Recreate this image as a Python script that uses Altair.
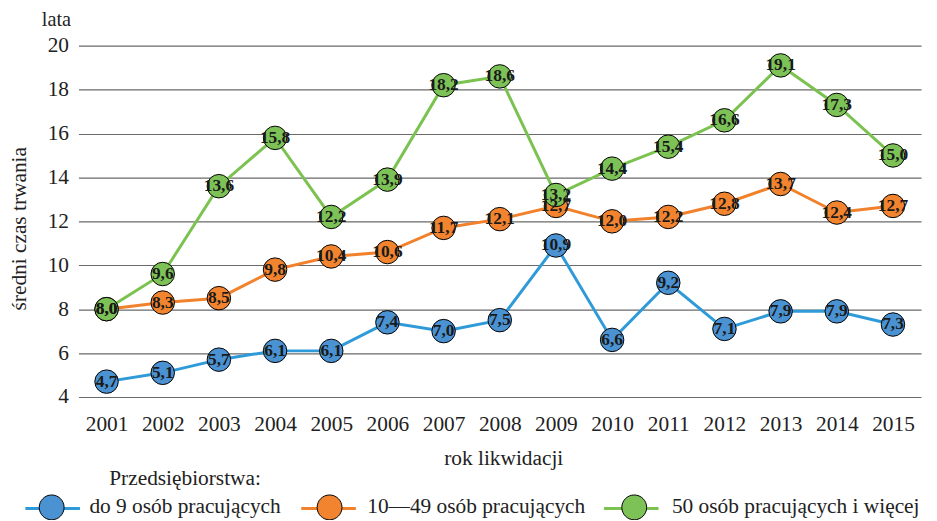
import altair as alt
import pandas as pd

years = list(range(2001, 2016))
series_names = ["do 9 osób pracujących", "10—49 osób pracujących", "50 osób pracujących i więcej"]
small = [4.7, 5.1, 5.7, 6.1, 6.1, 7.4, 7.0, 7.5, 10.9, 6.6, 9.2, 7.1, 7.9, 7.9, 7.3]
medium = [8.0, 8.3, 8.5, 9.8, 10.4, 10.6, 11.7, 12.1, 12.7, 12.0, 12.2, 12.8, 13.7, 12.4, 12.7]
large = [8.0, 9.6, 13.6, 15.8, 12.2, 13.9, 18.2, 18.6, 13.2, 14.4, 15.4, 16.6, 19.1, 17.3, 15.0]
y_ticks = [4, 6, 8, 10, 12, 14, 16, 18, 20]
line_colors = ["#2f9ad8", "#f2812c", "#7cc250"]
fill_colors = ["#4a92d2", "#f2842f", "#7dc256"]

# line legend keys carry an invisible zero-width space so Vega-Lite keeps it
# separate from the fill legend while the label widths stay identical
line_keys = [n + "\u200b" for n in series_names]

rows = []
for name, key, vals in zip(series_names, line_keys, [small, medium, large]):
    for yr, v in zip(years, vals):
        rows.append({"rok": yr, "czas": v, "linia": key, "grupa": name,
                     "etykieta": f"{v:.1f}".replace(".", ",")})
df = pd.DataFrame(rows)

FONT = "Liberation Serif"
TXT = "#222222"
W, H = 849, 354
LEG_X, LEG_Y = -55, 437
COL_PAD = 21
COL_PAD_LINES = 12

CIRCLE_SYM = "M-0.455,0A0.455,0.455,0,1,1,0.455,0A0.455,0.455,0,1,1,-0.455,0Z"
LINE_SYM = "M-1,0L1,0"

x_enc = alt.X(
    "rok:O",
    scale=alt.Scale(type="point", padding=0.5),
    axis=alt.Axis(
        title="rok likwidacji", labelAngle=0, labelFont=FONT, labelFontSize=21.5,
        labelColor=TXT, labelPadding=28, labelBaseline="middle", ticks=False, tickSize=0,
        domain=False, grid=False, titleFont=FONT, titleFontSize=21.5, titleFontWeight="normal",
        titleColor=TXT, titleX=428, titleY=68, titleBaseline="alphabetic",
    ),
)
y_enc = alt.Y(
    "czas:Q",
    scale=alt.Scale(domain=[4, 20], nice=False, zero=False),
    axis=alt.Axis(
        values=y_ticks, title="średni czas trwania", grid=True, gridColor="#6a6a6a",
        gridWidth=1.2, domain=False, ticks=False, tickSize=0, labelPadding=10,
        labelFont=FONT, labelFontSize=21.5, labelColor=TXT, titleFont=FONT,
        titleFontSize=21.5, titleFontWeight="normal", titleColor=TXT,
        titleX=-59, titleY=184, titleBaseline="middle",
    ),
)

base = alt.Chart(df)

lines = base.mark_line(strokeWidth=3).encode(
    x=x_enc, y=y_enc,
    color=alt.Color(
        "linia:N",
        scale=alt.Scale(domain=line_keys, range=line_colors),
        legend=alt.Legend(
            title=None, orient="none", legendX=LEG_X, legendY=LEG_Y, direction="horizontal",
            columns=3, columnPadding=COL_PAD_LINES, symbolType=LINE_SYM, symbolSize=3025,
            symbolStrokeWidth=3, labelFont=FONT, labelFontSize=21.5, labelColor=TXT,
            labelOffset=10, labelOpacity=0, labelLimit=400,
        ),
    ),
)

points = base.mark_point(filled=True, size=560, stroke="black", strokeWidth=1, opacity=1).encode(
    x=x_enc, y=y_enc,
    fill=alt.Fill(
        "grupa:N",
        scale=alt.Scale(domain=series_names, range=fill_colors),
        legend=alt.Legend(
            title=None, orient="none", legendX=LEG_X, legendY=LEG_Y, direction="horizontal",
            columns=3, columnPadding=COL_PAD, symbolType=CIRCLE_SYM,
            symbolSize=3025, symbolStrokeColor="black", symbolStrokeWidth=1, symbolOpacity=1,
            labelFont=FONT, labelFontSize=21.5, labelColor=TXT, labelOffset=10, labelLimit=400,
        ),
    ),
)

labels = base.mark_text(font=FONT, fontSize=17.5, fontWeight="bold", color="#1a1a1a",
                        align="center", baseline="middle").encode(
    x=x_enc, y=y_enc, text="etykieta:N"
)

lata = alt.Chart(pd.DataFrame({"t": ["lata"]})).mark_text(
    align="left", baseline="middle", font=FONT, fontSize=20.5, color=TXT
).encode(text="t:N", x=alt.value(-37), y=alt.value(-26))

przeds = alt.Chart(pd.DataFrame({"t": ["Przedsiębiorstwa:"]})).mark_text(
    align="left", baseline="middle", font=FONT, fontSize=21.5, color=TXT
).encode(text="t:N", x=alt.value(31), y=alt.value(437))

chart = alt.layer(lines, points, labels, lata, przeds).properties(
    width=W, height=H,
    padding={"left": 71, "top": 36, "right": 8, "bottom": 122},
    autosize=alt.AutoSizeParams(type="none"),
).configure_view(stroke=None)

chart.save("out.html", embed_options={"renderer": "svg", "actions": False})
